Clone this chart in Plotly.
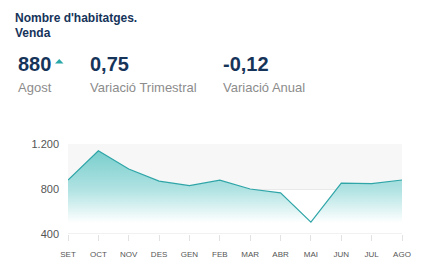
import plotly.graph_objects as go

months = ["SET", "OCT", "NOV", "DES", "GEN", "FEB", "MAR", "ABR", "MAI", "JUN", "JUL", "AGO"]
values = [880, 1140, 978, 870, 830, 878, 800, 765, 505, 852, 847, 880]
y_ticks = [400, 800, 1200]
y_tick_text = ["400", "800", "1.200"]

W, H = 437, 278
ML, MR, MT, MB = 68, 35, 144, 44
PW, PH = W - ML - MR, H - MT - MB
FONT = "Liberation Sans, Arial, sans-serif"
NAVY = "#16345a"
GRAY = "#8c8c8c"


def px(x):
    return (x - ML) / PW


def py(y):
    return (H - MB - y) / PH


xs = list(range(len(months)))

fig = go.Figure()
fig.add_trace(go.Scatter(
    x=xs, y=values, mode="lines",
    line=dict(color="#2fa5a8", width=1.2),
    fill="tozeroy",
    fillgradient=dict(type="vertical", start=500, stop=1140,
                      colorscale=[[0, "rgba(255,255,255,1)"], [0.45, "rgba(178,227,227,1)"], [1, "rgba(120,206,205,1)"]]),
    hoverinfo="skip", showlegend=False,
))

fig.add_shape(type="rect", xref="paper", yref="y", x0=0, x1=1, y0=800, y1=1200,
              fillcolor="#f7f7f7", line_width=0, layer="below")

anns = []


def txt(x, y, s, size, color, bold=False, xanchor="left", yanchor="bottom"):
    anns.append(dict(x=px(x), y=py(y), xref="paper", yref="paper", text=(f"<b>{s}</b>" if bold else s),
                     showarrow=False, xanchor=xanchor, yanchor=yanchor,
                     font=dict(family=FONT, size=size, color=color)))


txt(13, 27, "Nombre d'habitatges.", 12, NAVY, bold=True)
txt(13, 42, "Venda", 12, NAVY, bold=True)
txt(16, 77, "880", 20, NAVY, bold=True)
txt(88, 77, "0,75", 20, NAVY, bold=True)
txt(221, 77, "-0,12", 20, NAVY, bold=True)
txt(16, 97, "Agost", 13, GRAY)
txt(88, 97, "Variació Trimestral", 13, GRAY)
txt(221, 97, "Variació Anual", 13, GRAY)

# small up triangle next to the current value
tri = f"M {px(55)} {py(63.5)} L {px(63.5)} {py(63.5)} L {px(59.25)} {py(59)} Z"
fig.add_shape(type="path", xref="paper", yref="paper", path=tri,
              fillcolor="#2aa8a8", line_width=0)

fig.update_layout(
    width=W, height=H,
    margin=dict(l=ML, r=MR, t=MT, b=MB),
    paper_bgcolor="white", plot_bgcolor="white",
    annotations=anns,
    font=dict(family=FONT),
    xaxis=dict(range=[0, len(months) - 1], tickvals=xs, ticktext=months,
               showgrid=False, zeroline=False, showline=False,
               ticks="outside", ticklen=6, tickcolor="#e2e2e2", tickwidth=1,
               ticklabelstandoff=6,
               tickfont=dict(size=8, color="#555555", family=FONT), fixedrange=True),
    yaxis=dict(range=[400, 1200], tickvals=y_ticks, ticktext=y_tick_text,
               showgrid=True, gridcolor="#e9e9e9", gridwidth=1, zeroline=False,
               showline=False, ticks="", ticklabelstandoff=8,
               tickfont=dict(size=11, color="#555555", family=FONT), fixedrange=True),
)
fig.add_shape(type="line", xref="paper", yref="y", x0=0, x1=1, y0=400, y1=400,
              line=dict(color="#e2e2e2", width=1))

fig.write_html("out.html")
